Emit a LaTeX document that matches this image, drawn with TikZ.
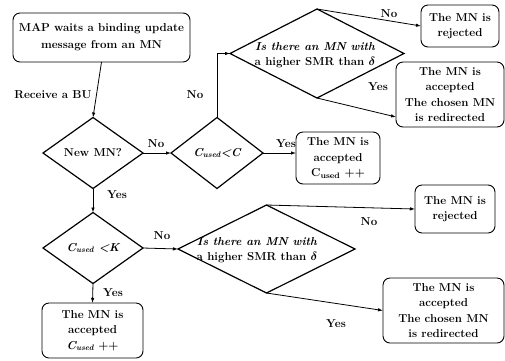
\documentclass[tikz,border=0pt]{standalone}
\usepackage{bm}
\usetikzlibrary{shapes.geometric,arrows.meta}
\begin{document}
\begin{tikzpicture}[x=1pt,y=-1pt,
  every node/.style={font=\fontsize{11.5}{15.5}\selectfont\bfseries},
  box/.style={draw, rounded corners=7pt, line width=0.9pt, align=center, inner sep=1pt, outer sep=0pt},
  dia/.style={draw, diamond, line width=1.2pt, inner sep=0pt, outer sep=0pt},
  lbl/.style={inner sep=0pt, align=center},
  arr/.style={-{Latex[length=5pt,width=3.5pt]}, line width=0.8pt}
]
\useasboundingbox (0,0) rectangle (505,360);
% boxes
\node[box, minimum width=177pt, minimum height=49pt, font=\fontsize{11.5}{17}\selectfont\bfseries] (b1) at (101.5,37.5) {MAP waits a binding update\\message from an MN};
\node[box, minimum width=78pt, minimum height=42pt] (rej1) at (460,26) {The MN is\\rejected};
\node[box, minimum width=108pt, minimum height=65pt] (acc1) at (450,94.5) {The MN is\\accepted\\The chosen MN\\is redirected};
\node[box, minimum width=84pt, minimum height=52pt] (accC) at (338,158) {The MN is\\accepted\\C\textsubscript{used} ++};
\node[box, minimum width=80pt, minimum height=48pt] (rej2) at (455,209) {The MN is\\rejected};
\node[box, minimum width=121pt, minimum height=65pt] (acc2) at (443.5,310.5) {The MN is\\accepted\\The chosen MN\\is redirected};
\node[box, minimum width=101pt, minimum height=55pt] (accK) at (92.5,330.5) {The MN is\\accepted\\\textit{C\textsubscript{used}} ++};
% diamonds
\node[dia, minimum width=100pt, minimum height=71pt] (d1) at (93,153) {};
\node[dia, minimum width=92pt, minimum height=71pt] (d2) at (217,153) {};
\node[dia, minimum width=174pt, minimum height=89pt] (d3) at (317,53.5) {};
\node[dia, minimum width=100pt, minimum height=71pt] (d4) at (93,248) {};
\node[dia, minimum width=177pt, minimum height=88pt] (d5) at (266.5,249) {};
% diamond texts
\node[lbl] (t1) at (93,153) {New MN?};
\node[lbl] (t2) at (217,153) {\itshape C\textsubscript{used}<C};
\node[lbl] (t3) at (315,55) {{\itshape Is there an MN with}\\a higher SMR than $\bm{\delta}$};
\node[lbl] (t4) at (93,248) {\itshape C\textsubscript{used} <K};
\node[lbl] (t5) at (257,250) {{\itshape Is there an MN with}\\a higher SMR than $\bm{\delta}$};
% connectors
\draw[arr] (b1.south) -- (d1.north);
\draw[arr] (d1.east) -- (d2.west);
\draw[arr] (d2.north) |- (d3.west);
\draw[arr] (d3.north) -- (rej1.west);
\draw[arr] (d3.south) -- ([yshift=-22.5pt]acc1.west);
\draw[arr] (d2.east) -- (d2.east -| accC.west);
\draw[arr] (d1.south) -- (d4.north);
\draw[arr] (d4.east) -- (d5.west);
\draw[arr] (d5.north) -- (rej2.west);
\draw[arr] (d5.south) -- (acc2.west);
\draw[arr] (d4.south) -- (accK.north);
% labels
\node[lbl] (lrecv) at (53,95) {Receive a BU};
\node[lbl] (lno1) at (156,144) {No};
\node[lbl] (lno2) at (195,95) {No};
\node[lbl] (lno3) at (389,14) {No};
\node[lbl] (lyes3) at (378,87) {Yes};
\node[lbl] (lyes2) at (286,144) {Yes};
\node[lbl] (lyes1) at (117,195) {Yes};
\node[lbl] (lno4) at (162,236) {No};
\node[lbl] (lyes4) at (113,293) {Yes};
\node[lbl] (lno5) at (369,222) {No};
\node[lbl] (lyes5) at (336,324) {Yes};
\end{tikzpicture}
\end{document}
